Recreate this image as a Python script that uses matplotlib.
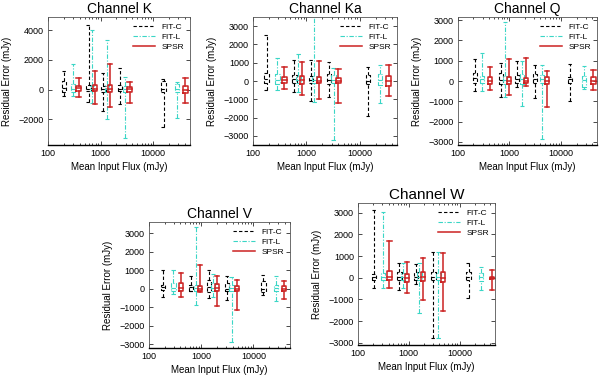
import matplotlib
matplotlib.use("Agg")
import matplotlib.pyplot as plt
from matplotlib.lines import Line2D
from matplotlib.ticker import FixedLocator, FixedFormatter, LogLocator, NullFormatter

plt.rcParams['font.family'] = ['Liberation Sans', 'DejaVu Sans']

series_names = ["FIT-C", "FIT-L", "SPSR"]
series_colors = ["black", "#3ad6c6", "#cc2222"]
series_styles = [(0, (3, 2)), (0, (4, 1.5, 1, 1.5)), "-"]
series_lw = [0.8, 0.8, 1.1]

# ---- Channel K ----  rows: FIT-C, FIT-L, SPSR ; columns: flux bins
K_pos = [[199, 590, 1130, 2350, 15700], [295, 690, 1320, 2940, 28000], [380, 790, 1510, 3560, 40800]]
K_high = [[1250, 4370, 1140, 1480, 690], [1710, 3990, 3360, 870, 530], [760, 1250, 1710, 530, 800]]
K_q3 = [[600, 300, 250, 280, 550], [370, 250, 300, 250, 350], [240, 300, 300, 200, 240]]
K_med = [[100, 30, 50, 50, 60], [50, 50, 50, 30, 50], [70, 50, 50, 20, 0]]
K_q1 = [[-150, -100, -150, -120, -150], [-150, -100, -150, -150, -200], [-100, -120, -150, -200, -260]]
K_low = [[-440, -870, -1440, -1000, -2520], [-470, -940, -2000, -3310, -1950], [-530, -980, -1200, -890, -940]]

# ---- Channel Ka ----
Ka_pos = [[180, 595, 1210, 2680, 14200], [287, 707, 1410, 3230, 24000], [389, 836, 1730, 4000, 34700]]
Ka_high = [[2500, 1130, 1130, 1030, 760], [1250, 1490, 3600, 700, 890], [760, 1030, 1070, 670, 890]]
Ka_q3 = [[430, 350, 300, 400, 350], [400, 300, 300, 350, 400], [210, 250, 200, 150, 300]]
Ka_med = [[100, 100, 80, 50, 0], [60, 60, 60, 80, 50], [50, 50, 20, 0, 0]]
Ka_q1 = [[-120, -100, -100, -150, -150], [-150, -100, -100, -100, -200], [-120, -150, -100, -100, -250]]
Ka_low = [[-470, -610, -1070, -850, -1900], [-470, -590, -1160, -3230, -1220], [-430, -760, -980, -1220, -800]]

# ---- Channel Q ----
Q_pos = [[214, 680, 1420, 3150, 14900], [289, 815, 1730, 4250, 28000], [417, 975, 2100, 5300, 42500]]
Q_high = [[1070, 870, 990, 790, 840], [1360, 2920, 990, 790, 740], [700, 1070, 1120, 490, 540]]
Q_q3 = [[380, 400, 300, 350, 200], [250, 250, 350, 300, 250], [180, 200, 150, 180, 200]]
Q_med = [[150, 50, 100, 100, 100], [80, 50, 100, 80, 30], [0, 0, 0, 0, 0]]
Q_q1 = [[-110, -150, -100, -100, -100], [-100, -150, -150, -100, -300], [-150, -150, -100, -150, -150]]
Q_low = [[-490, -800, -310, -850, -970], [-490, -800, -1210, -2870, -410], [-440, -690, -250, -1300, -440]]

# ---- Channel V ----
V_pos = [[188, 635, 1410, 3090, 15500], [293, 790, 1660, 3830, 26700], [410, 950, 1990, 4900, 38900]]
V_high = [[990, 660, 990, 660, 750], [990, 3310, 810, 630, 660], [840, 1290, 660, 480, 390]]
V_q3 = [[210, 200, 450, 300, 400], [300, 200, 300, 200, 200], [300, 150, 250, 150, 150]]
V_med = [[100, 100, 100, 0, 0], [50, 50, 50, 50, 50], [50, 0, 50, 0, 0]]
V_q1 = [[-90, -100, -200, -150, -200], [-150, -100, -150, -150, -100], [-150, -150, -150, -150, -150]]
V_low = [[-450, -100, -500, -630, -360], [-310, -860, -450, -2870, -690], [-450, -180, -950, -1170, -580]]

# ---- Channel W ----
W_pos = [[208, 655, 1380, 3070, 15100], [307, 780, 1620, 3830, 26800], [415, 935, 1910, 4800, 43300]]
W_high = [[3120, 700, 630, 1200, 690], [3050, 690, 660, 1200, 510], [1710, 740, 890, 1150, 360]]
W_q3 = [[160, 250, 250, 250, 250], [200, 200, 250, 200, 200], [300, 160, 250, 250, 50]]
W_med = [[50, 50, 50, 50, 50], [50, 50, 50, 50, 50], [50, 0, 50, 0, 0]]
W_q1 = [[-110, -100, -100, -100, -100], [-100, -100, -100, -100, -150], [-100, -210, -150, -180, -50]]
W_low = [[-460, -570, -300, -2800, -920], [-460, -450, -1640, -2800, -570], [-460, -720, -1030, -1540, -570]]

x_ticks = [100, 1000, 10000]
x_ticklabels = ["100", "1000", "10000"]

panels = [
    ("Channel K", K_pos, K_low, K_q1, K_med, K_q3, K_high,
     [0.08, 0.6224, 0.2367, 0.3333], (-3750, 4900), [-2000, 0, 2000, 4000], 10),
    ("Channel Ka", Ka_pos, Ka_low, Ka_q1, Ka_med, Ka_q3, Ka_high,
     [0.4217, 0.6224, 0.24, 0.3333], (-3500, 3500), [-3000, -2000, -1000, 0, 1000, 2000, 3000], 10),
    ("Channel Q", Q_pos, Q_low, Q_q1, Q_med, Q_q3, Q_high,
     [0.7633, 0.6224, 0.2317, 0.3333], (-3150, 3150), [-3000, -2000, -1000, 0, 1000, 2000, 3000], 10),
    ("Channel V", V_pos, V_low, V_q1, V_med, V_q3, V_high,
     [0.2483, 0.0938, 0.235, 0.328], (-3200, 3600), [-3000, -2000, -1000, 0, 1000, 2000, 3000], 10),
    ("Channel W", W_pos, W_low, W_q1, W_med, W_q3, W_high,
     [0.5967, 0.1016, 0.2283, 0.3698], (-3100, 3450), [-3000, -2000, -1000, 0, 1000, 2000, 3000], 11),
]

HALF = 10 ** 0.042  # half box width as a log-space factor

fig = plt.figure(figsize=(6, 3.84), dpi=100)

for title, pos, low, q1, med, q3, high, rect, ylim, yticks, tsize in panels:
    ax = fig.add_axes(rect)
    ax.set_xscale('log')
    for s in range(3):
        kw = dict(color=series_colors[s], linestyle=series_styles[s], lw=series_lw[s])
        for i in range(len(pos[s])):
            x = pos[s][i]
            xl, xr = x / HALF, x * HALF
            ax.plot([x, x], [low[s][i], q1[s][i]], **kw)
            ax.plot([x, x], [q3[s][i], high[s][i]], **kw)
            ax.plot([xl, xr], [low[s][i], low[s][i]], **kw)
            ax.plot([xl, xr], [high[s][i], high[s][i]], **kw)
            ax.plot([xl, xr, xr, xl, xl],
                    [q1[s][i], q1[s][i], q3[s][i], q3[s][i], q1[s][i]], **kw)
            ax.plot([xl, xr], [med[s][i], med[s][i]], **kw)
    ax.set_xlim(100, 50000)
    ax.set_ylim(*ylim)
    ax.xaxis.set_major_locator(FixedLocator(x_ticks))
    ax.xaxis.set_major_formatter(FixedFormatter(x_ticklabels))
    ax.xaxis.set_minor_locator(LogLocator(base=10, subs=range(2, 10)))
    ax.xaxis.set_minor_formatter(NullFormatter())
    ax.set_yticks(yticks)
    ax.tick_params(which='both', direction='in', top=True, right=True,
                   labelsize=6.5, width=0.5, pad=3)
    ax.tick_params(which='major', length=3)
    ax.tick_params(which='minor', length=1.5)
    for sp in ax.spines.values():
        sp.set_linewidth(0.6)
        sp.set_color('#555555')
    ax.spines['bottom'].set_color('black')
    ax.spines['bottom'].set_linewidth(1.0)
    ax.set_title(title, fontsize=tsize, pad=3)
    ax.set_xlabel("Mean Input Flux (mJy)", fontsize=7, labelpad=3)
    ax.set_ylabel("Residual Error (mJy)", fontsize=7, labelpad=5)
    handles = [Line2D([0], [0], color=series_colors[s], linestyle=series_styles[s],
                      lw=series_lw[s]) for s in range(3)]
    ax.legend(handles, series_names, loc='upper right', frameon=False, fontsize=6,
              handlelength=2.6, handletextpad=0.8, labelspacing=0.3,
              borderaxespad=0.3)

fig.savefig("out.png", dpi=100)
